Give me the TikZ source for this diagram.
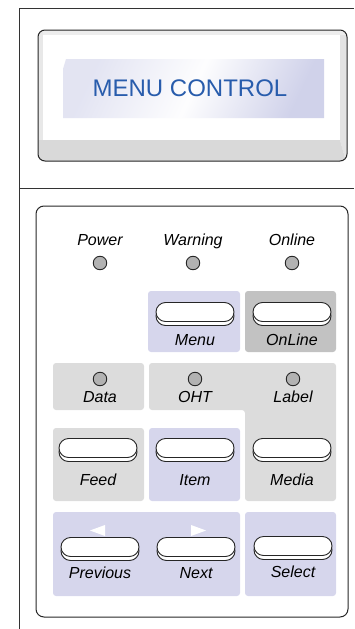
\documentclass[tikz,border=0pt]{standalone}
\usepackage{fontspec}
\setmainfont{Liberation Sans}
\usetikzlibrary{positioning}

\definecolor{lavend}{RGB}{214,214,236}
\definecolor{panelgray}{RGB}{220,220,220}
\definecolor{onlgray}{RGB}{194,194,194}
\definecolor{ledgray}{RGB}{178,178,178}
\definecolor{lcdblue}{RGB}{40,92,172}
\definecolor{lcdscreen}{RGB}{208,210,234}

\tikzset{
  led/.style={circle, draw=black!85, fill=ledgray, line width=0.9pt,
    minimum size=13.5pt, inner sep=0pt},
  keybtn/.style={draw=black!85, fill=white, line width=0.9pt,
    rounded corners=9.5pt, minimum width=78pt, minimum height=19pt, inner sep=0pt,
    preaction={draw=black!85, fill=white, line width=0.9pt,
      transform canvas={yshift=-4pt}}},
  keylbl/.style={font=\fontsize{16}{18}\selectfont\itshape, inner sep=0pt,
    text height=11.5pt, text depth=3pt},
  grp/.style={rounded corners=3pt},
}

\begin{document}
\begin{tikzpicture}[x=1pt, y=-1pt]
  \useasboundingbox (0,0) rectangle (354,629);

  % rahmen
  \draw[black!80, line width=1pt] (19,629) -- (19,8) -- (354,8);
  \draw[black!80, line width=1pt] (19,188) -- (354,188);

  % lcd
  \begin{scope}
    \clip[rounded corners=7pt] (38,30) rectangle (347,161);
    \fill[white] (38,30) rectangle (347,161);
    \fill[black!7] (38,30) rectangle (347,35);
    \fill[black!9] (38,30) rectangle (43,161);
    \fill[black!11] (340,35) -- (347,35) -- (347,161) -- (345,158) -- (340,140) -- cycle;
    \fill[black!15] (38,140) -- (340,140) -- (345,158) -- (347,161) -- (38,161) -- cycle;
  \end{scope}
  \draw[black!85, line width=1pt, rounded corners=7pt] (38,30) rectangle (347,161);
  \shade[top color=white!40!lcdscreen, bottom color=lcdscreen, middle color=white!96!lcdscreen,
    shading angle=65]
    (66,59) -- (324,59) -- (324,118) -- (63,118) -- (63,69) -- cycle;
  \node[text=lcdblue, font=\fontsize{24}{28}\selectfont, inner sep=0pt] (title)
    at (190,88) {MENU CONTROL};

  % tastenfeld
  \draw[black!85, line width=1pt, rounded corners=8pt] (36,206) rectangle (348,617);

  % gruppen
  \fill[grp, lavend] (148,291) rectangle (240,352);
  \fill[grp, onlgray] (245,291) rectangle (336,352);
  \fill[grp, panelgray] (53,363) rectangle (144,410);
  \fill[grp, panelgray] (149,363) -- (336,363) -- (336,501) -- (245,501)
    -- (245,410) -- (149,410) -- cycle;
  \fill[grp, panelgray] (53,428) rectangle (144,501);
  \fill[grp, lavend] (149,428) rectangle (240,501);
  \fill[grp, lavend] (53,512) rectangle (240,596);
  \fill[grp, lavend] (245,512) rectangle (336,596);

  % leds oben
  \node[led] (pwrled) at (100,263) {};
  \node[led] (warnled) at (193,263) {};
  \node[led] (onled) at (292,263) {};
  \node[keylbl, above=7pt of pwrled] (pwr) {Power};
  \node[keylbl, above=7pt of warnled] (warn) {Warning};
  \node[keylbl, above=7pt of onled] (onl) {Online};

  % leds mitte
  \node[led] (dataled) at (100,379) {};
  \node[led] (ohtled) at (195,379) {};
  \node[led] (lblled) at (293,379) {};
  \node[keylbl, below=5pt of dataled] (data) {Data};
  \node[keylbl, below=5pt of ohtled] (oht) {OHT};
  \node[keylbl, below=5pt of lblled] (lbl) {Label};

  % tasten
  \node[keybtn] (menu) at (195,312) {};
  \node[keybtn] (online) at (292,312) {};
  \node[keylbl, below=12pt of menu] {Menu};
  \node[keylbl, below=12pt of online] {OnLine};

  \node[keybtn] (feed) at (98,448) {};
  \node[keybtn] (item) at (195,448) {};
  \node[keybtn] (media) at (292,448) {};
  \node[keylbl, below=16pt of feed] {Feed};
  \node[keylbl, below=16pt of item] {Item};
  \node[keylbl, below=16pt of media] {Media};

  \node[keybtn] (prev) at (100,547) {};
  \node[keybtn] (next) at (196,547) {};
  \node[keybtn] (select) at (293,546) {};
  \node[keylbl, below=9.5pt of prev] {Previous};
  \node[keylbl, below=9.5pt of next] {Next};
  \node[keylbl, below=9.5pt of select] {Select};

  % pfeile
  \fill[white] (90,530.5) -- (105,525) -- (105,536) -- cycle;
  \fill[white] (206,530.5) -- (191,525) -- (191,536) -- cycle;
\end{tikzpicture}
\end{document}
